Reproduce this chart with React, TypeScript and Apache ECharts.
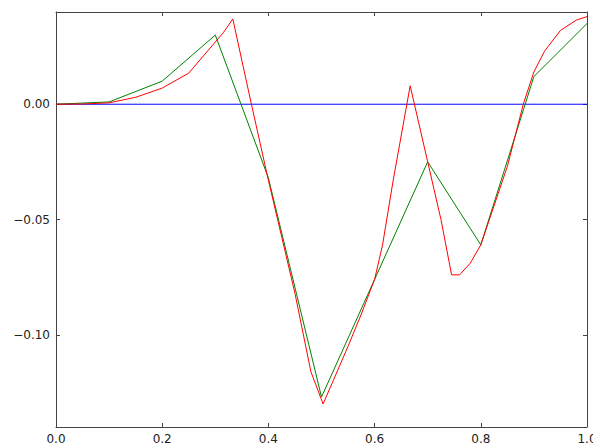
import React, { useEffect, useRef } from "react";
import * as echarts from "echarts";

const yTicks = [-0.1, -0.05, 0];

const greenX = [0, 0.1, 0.2, 0.3, 0.4, 0.5, 0.7, 0.8, 0.9, 1.0];
const greenY = [0, 0.001, 0.01, 0.03, -0.032, -0.127, -0.025, -0.061, 0.012, 0.035];

const redX = [0, 0.05, 0.1, 0.15, 0.2, 0.25, 0.3, 0.315, 0.333, 0.35, 0.368, 0.4, 0.45, 0.48, 0.503, 0.52, 0.55, 0.575, 0.6, 0.615, 0.635, 0.667, 0.7, 0.725, 0.745, 0.76, 0.78, 0.8, 0.85, 0.88, 0.9, 0.92, 0.95, 0.98, 1.0];
const redY = [0, 0.0001, 0.0006, 0.003, 0.007, 0.0135, 0.027, 0.031, 0.037, 0.019, 0, -0.033, -0.082, -0.116, -0.13, -0.121, -0.105, -0.091, -0.076, -0.061, -0.033, 0.008, -0.025, -0.05, -0.074, -0.074, -0.069, -0.061, -0.027, 0, 0.014, 0.023, 0.032, 0.0365, 0.038];

const blueX = [0, 1];
const blueY = [0, 0];

const zip = (xs: number[], ys: number[]) => xs.map((x, i) => [x, ys[i]]);

const fmtY = (v: number) => {
  const s = Math.abs(v).toFixed(2);
  return v < -1e-9 ? "\u2212" + s : s;
};

export default function App() {
  const ref = useRef<HTMLDivElement>(null);
  useEffect(() => {
    document.body.style.margin = "0";
    const chart = echarts.init(ref.current!, null, { renderer: "svg" });
    const axisLine = { show: true, onZero: false, lineStyle: { color: "#444", width: 1 } };
    const tick = { show: true, inside: true, length: 4, lineStyle: { color: "#444" } };
    const font = { fontFamily: "DejaVu Sans", fontSize: 12, color: "#222" };
    chart.setOption({
      animation: false,
      backgroundColor: "#fff",
      grid: { left: 56, top: 12, width: 531, height: 415, containLabel: false, outerBoundsMode: "none" },
      xAxis: [
        {
          type: "value",
          min: 0,
          max: 1,
          interval: 0.2,
          position: "bottom",
          axisLine,
          axisTick: tick,
          axisLabel: { ...font, margin: 6, formatter: (v: number) => v.toFixed(1) },
          splitLine: { show: false },
        },
        {
          type: "value",
          min: 0,
          max: 1,
          interval: 0.2,
          position: "top",
          axisLine,
          axisTick: tick,
          axisLabel: { show: false },
          splitLine: { show: false },
        },
      ],
      yAxis: [
        {
          type: "value",
          min: -0.14,
          max: 0.04,
          position: "left",
          axisLine,
          axisTick: { ...tick, customValues: yTicks },
          axisLabel: { ...font, margin: 6, customValues: yTicks, formatter: fmtY },
          splitLine: { show: false },
        },
        {
          type: "value",
          min: -0.14,
          max: 0.04,
          position: "right",
          axisLine,
          axisTick: { ...tick, customValues: yTicks },
          axisLabel: { show: false },
          splitLine: { show: false },
        },
      ],
      series: [
        {
          type: "line",
          data: zip(blueX, blueY),
          showSymbol: false,
          lineStyle: { color: "#0000ff", width: 1 },
          z: 1,
        },
        {
          type: "line",
          data: zip(greenX, greenY),
          showSymbol: false,
          lineStyle: { color: "#008000", width: 1 },
          z: 2,
        },
        {
          type: "line",
          data: zip(redX, redY),
          showSymbol: false,
          lineStyle: { color: "#ff0000", width: 1 },
          z: 3,
        },
      ],
    });
    return () => chart.dispose();
  }, []);
  return <div ref={ref} style={{ width: 593, height: 448 }} />;
}
